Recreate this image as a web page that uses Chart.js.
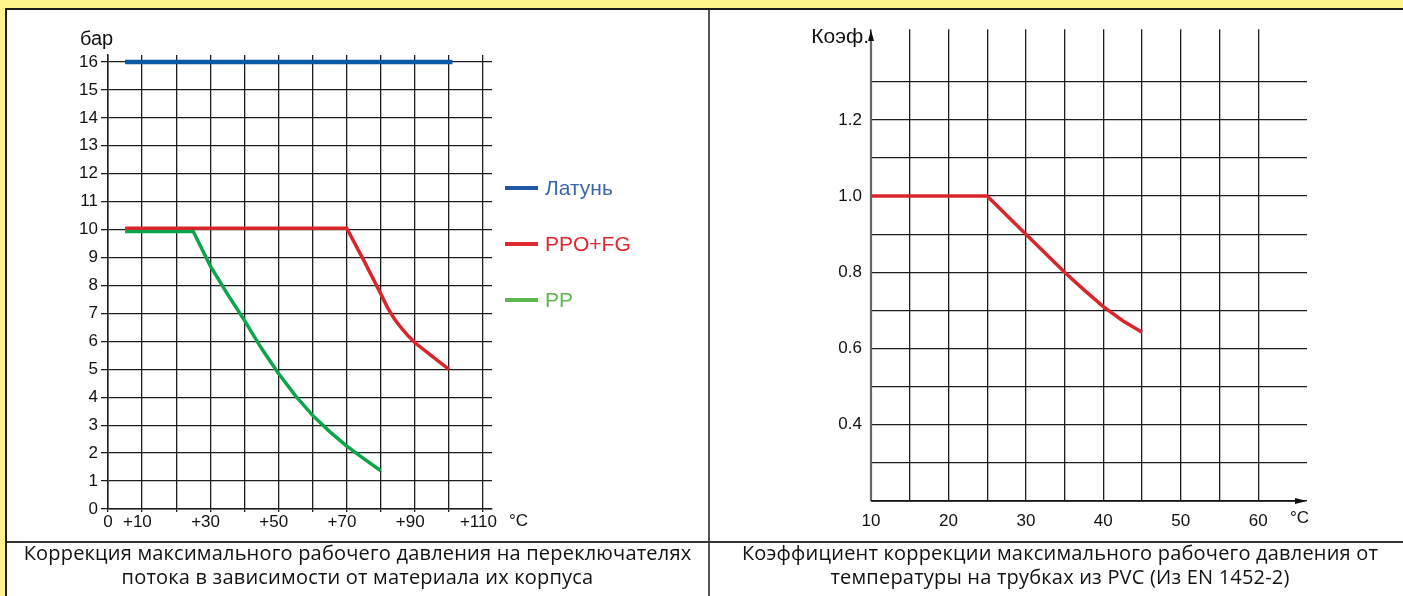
<!DOCTYPE html>
<html>
<head>
<meta charset="utf-8">
<script src="https://cdn.jsdelivr.net/npm/chart.js@4.4.1/dist/chart.umd.min.js"></script>
<style>
  body { margin: 0; width: 1403px; height: 596px; overflow: hidden; position: relative; background: #fff38b; }
  #frame { position: absolute; left: 5px; top: 8px; width: 1420px; height: 600px; background: #fff;
           border-top: 2px solid #1a1a1a; border-left: 2px solid #1a1a1a; }
  #vdiv { position: absolute; left: 708px; top: 10px; width: 2px; height: 586px; background: #555; }
  #hdiv { position: absolute; left: 7px; top: 541px; width: 1400px; height: 2px; background: #333; }
  .box { position: absolute; top: 10px; height: 530px; }
  #left { left: 7px; width: 700px; }
  #right { left: 710px; width: 693px; }
  .cap { position: absolute; top: 541px; font: 20px/24px "Open Sans", sans-serif; letter-spacing: 0.2px; color: #111; text-align: center; }
  #capL { left: 7px; width: 701px; }
  #capR { left: 710px; width: 700px; }
</style>
</head>
<body>
<div id="frame"></div>
<div id="vdiv"></div>
<div id="hdiv"></div>
<div class="box" id="left"><canvas id="chart-left"></canvas></div>
<div class="box" id="right"><canvas id="chart-right"></canvas></div>
<div class="cap" id="capL">Коррекция максимального рабочего давления на переключателях<br>потока в зависимости от материала их корпуса</div>
<div class="cap" id="capR">Коэффициент коррекции максимального рабочего давления от<br>температуры на трубках из PVC (Из EN 1452-2)</div>
<script>
// --- левый график: давление (бар) от температуры
const brassT = [5, 101];
const brassP = [16, 16];
const ppoT = [5, 70, 75, 80, 82, 84, 86, 88, 90, 95, 100];
const ppoP = [10.05, 10.05, 8.9, 7.7, 7.2, 6.8, 6.48, 6.2, 5.95, 5.47, 5.0];
const ppT = [5, 25, 30, 35, 40, 45, 50, 55, 60, 65, 70, 75, 80];
const ppP = [9.93, 9.93, 8.7, 7.7, 6.75, 5.75, 4.85, 4.05, 3.35, 2.77, 2.25, 1.8, 1.37];
const seriesNames = ['Латунь', 'PPO+FG', 'PP'];
const tempTicks = [0, 10, 20, 30, 40, 50, 60, 70, 80, 90, 100, 110];
const tempLabels = [0, 10, 30, 50, 70, 90, 110];
const pressureTicks = [0, 1, 2, 3, 4, 5, 6, 7, 8, 9, 10, 11, 12, 13, 14, 15, 16];

// --- правый график: коэффициент для PVC
const pvcT = [10, 25, 30, 35, 37.5, 40, 42.5, 45];
const pvcK = [1.0, 1.0, 0.9, 0.8, 0.754, 0.71, 0.673, 0.643];
const pvcTempTicks = [10, 15, 20, 25, 30, 35, 40, 45, 50, 55, 60];
const pvcTempLabels = [10, 20, 30, 40, 50, 60];
const coefTicks = [0.2, 0.3, 0.4, 0.5, 0.6, 0.7, 0.8, 0.9, 1.0, 1.1, 1.2, 1.3];
const coefLabels = [0.4, 0.6, 0.8, 1.0, 1.2];

Chart.defaults.font.family = "'Liberation Sans', Arial, sans-serif";
Chart.defaults.color = '#111';

const pts = (xs, ys) => xs.map((x, i) => ({ x, y: ys[i] }));
const GRID = '#1e1e1e';

const lineColors = ['#0b5aa8', '#d8262c', '#0ca54b'];
const legendColors = ['#2257a8', '#dc2a2f', '#5cb84a'];
const legendText = ['#3a66b0', '#e0282e', '#5cb84a'];

const leftDecor = {
  id: 'leftDecor',
  afterDraw(chart) {
    const ctx = chart.ctx;
    ctx.save();
    ctx.fillStyle = '#111';
    ctx.font = "20px 'Liberation Sans', Arial";
    ctx.textBaseline = 'alphabetic';
    ctx.fillText('бар', 73, 35);
    ctx.font = "17px 'Liberation Sans', Arial";
    ctx.textBaseline = 'middle';
    ctx.fillText('°C', 502, 511);
    seriesNames.forEach((name, i) => {
      const y = 178 + i * 56;
      ctx.strokeStyle = legendColors[i];
      ctx.lineWidth = 4;
      ctx.beginPath();
      ctx.moveTo(498, y);
      ctx.lineTo(531, y);
      ctx.stroke();
      ctx.fillStyle = legendText[i];
      ctx.font = "21px 'Liberation Sans', Arial";
      ctx.fillText(name, 538, y + 1);
    });
    ctx.restore();
  }
};

new Chart(document.getElementById('chart-left'), {
  type: 'line',
  data: {
    datasets: [
      { label: seriesNames[0], data: pts(brassT, brassP), borderColor: lineColors[0], borderWidth: 4.5 },
      { label: seriesNames[1], data: pts(ppoT, ppoP), borderColor: lineColors[1], borderWidth: 3.5 },
      { label: seriesNames[2], data: pts(ppT, ppP), borderColor: lineColors[2], borderWidth: 3.5 },
    ],
  },
  options: {
    responsive: true,
    maintainAspectRatio: false,
    animation: false,
    layout: { padding: { left: 0, top: 45, right: 215, bottom: 0 } },
    elements: { point: { radius: 0 }, line: { tension: 0, borderCapStyle: 'butt' } },
    plugins: { legend: { display: false }, tooltip: { enabled: false } },
    scales: {
      x: {
        type: 'linear', min: 0, max: 112.6,
        afterBuildTicks: (s) => { s.ticks = tempTicks.map(v => ({ value: v })); },
        afterFit: (s) => { s.height = 31; },
        ticks: {
          autoSkip: false, maxRotation: 0, padding: 0, font: { size: 17 },
          // цифры по центру линии, "+" висит слева
          callback: (v) => tempLabels.includes(v) ? (v === 0 ? '0' : '+' + v + '\u2007') : '',
        },
        grid: { color: GRID, lineWidth: 1.3, tickLength: 3 },
        border: { color: GRID, width: 1.5 },
      },
      y: {
        min: 0, max: 16.25,
        afterBuildTicks: (s) => { s.ticks = pressureTicks.map(v => ({ value: v })); },
        afterFit: (s) => { s.width = 101; },
        ticks: { autoSkip: false, padding: 3, font: { size: 17 } },
        grid: { color: GRID, lineWidth: 1.3, tickLength: 7 },
        border: { color: GRID, width: 1.5 },
      },
    },
  },
  plugins: [leftDecor],
});

const rightDecor = {
  id: 'rightDecor',
  afterDraw(chart) {
    const ctx = chart.ctx;
    const a = chart.chartArea;
    ctx.save();
    // оси со стрелками
    ctx.strokeStyle = '#666';
    ctx.lineWidth = 2.2;
    ctx.beginPath();
    ctx.moveTo(a.left, a.bottom);
    ctx.lineTo(a.left, 28);
    ctx.stroke();
    ctx.fillStyle = '#111';
    ctx.beginPath();
    ctx.moveTo(a.left, 20);
    ctx.lineTo(a.left - 3, 31);
    ctx.lineTo(a.left + 3, 31);
    ctx.closePath();
    ctx.fill();
    ctx.strokeStyle = '#111';
    ctx.lineWidth = 1.5;
    ctx.beginPath();
    ctx.moveTo(a.left, a.bottom);
    ctx.lineTo(a.right - 10, a.bottom);
    ctx.stroke();
    ctx.beginPath();
    ctx.moveTo(a.right, a.bottom);
    ctx.lineTo(a.right - 12, a.bottom - 3);
    ctx.lineTo(a.right - 12, a.bottom + 3);
    ctx.closePath();
    ctx.fill();
    ctx.font = "21px 'Liberation Sans', Arial";
    ctx.textAlign = 'right';
    ctx.textBaseline = 'middle';
    ctx.fillText('Коэф.', a.left - 2, 27);
    ctx.textAlign = 'left';
    ctx.font = "17px 'Liberation Sans', Arial";
    ctx.fillText('°C', 580, 508);
    ctx.restore();
  }
};

new Chart(document.getElementById('chart-right'), {
  type: 'line',
  data: {
    datasets: [
      { label: 'PVC', data: pts(pvcT, pvcK), borderColor: '#d8262c', borderWidth: 3.5 },
    ],
  },
  options: {
    responsive: true,
    maintainAspectRatio: false,
    animation: false,
    layout: { padding: { left: 0, top: 12, right: 96, bottom: 0 } },
    elements: { point: { radius: 0 }, line: { tension: 0, borderCapStyle: 'butt' } },
    plugins: { legend: { display: false }, tooltip: { enabled: false } },
    scales: {
      x: {
        type: 'linear', min: 10, max: 66.3,
        afterBuildTicks: (s) => { s.ticks = pvcTempTicks.map(v => ({ value: v })); },
        afterFit: (s) => { s.height = 39; },
        ticks: {
          autoSkip: false, maxRotation: 0, padding: 10, font: { size: 17 },
          callback: (v) => pvcTempLabels.includes(v) ? String(v) : '',
        },
        grid: { color: GRID, lineWidth: 1.3, drawTicks: false },
        border: { display: false },
      },
      y: {
        min: 0.2, max: 1.438,
        afterBuildTicks: (s) => { s.ticks = coefTicks.map(v => ({ value: v })); },
        afterFit: (s) => { s.width = 161; },
        ticks: {
          autoSkip: false, padding: 9, font: { size: 17 },
          callback: (v) => coefLabels.includes(v) ? v.toFixed(1) : '',
        },
        grid: { color: GRID, lineWidth: 1.3, drawTicks: false },
        border: { display: false },
      },
    },
  },
  plugins: [rightDecor],
});
</script>
</body>
</html>
